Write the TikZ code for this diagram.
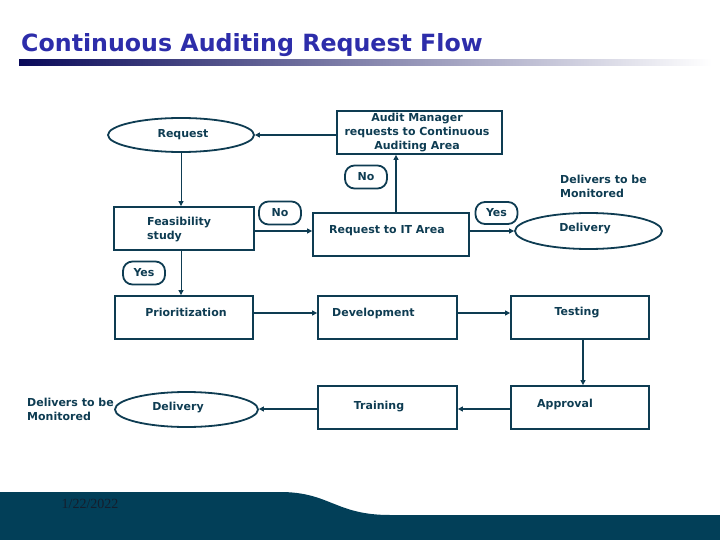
\documentclass[tikz,border=0pt]{standalone}
\usepackage{fontspec}
\setmainfont{DejaVu Sans}
\newfontfamily\datefont{Liberation Serif}
\usepackage{xcolor}
\usepackage{tikz}
\usetikzlibrary{
	arrows.meta,
	shapes.geometric,
	positioning
}
\definecolor{DeepTeal}{RGB}{14,60,82}
\definecolor{FootTeal}{RGB}{2,63,88}
\definecolor{TitleBlue}{RGB}{45,45,170}
\definecolor{BarNavy}{RGB}{10,10,90}

\begin{document}
\begin{tikzpicture}[x=1pt, y=-1pt,
		box/.style={draw=DeepTeal, line width=1.8pt, minimum width=#1, minimum height=43pt, inner sep=0pt},
		box/.default=139pt,
		oval/.style={ellipse, draw=DeepTeal, line width=1.8pt, minimum width=#1, minimum height=35pt, inner sep=0pt},
		oval/.default=145pt,
		txt/.style={text=DeepTeal, font=\bfseries\fontsize{11}{14}\selectfont, inner sep=0pt, align=center},
		tag/.style={txt, draw=DeepTeal, line width=1.8pt, rounded corners=9.5pt, minimum width=42pt, minimum height=23pt},
		arr/.style={draw=DeepTeal, line width=1.8pt, -{Triangle[length=5pt,width=5pt]}},
		thinarr/.style={arr, line width=1pt}]
			\useasboundingbox (0,0) rectangle (720,540);
			% heading
			\node[anchor=base west, text=TitleBlue, font=\bfseries\fontsize{23.7}{28}\selectfont, inner sep=0pt] (title) at (21,52) {Continuous Auditing Request Flow};
			\shade[left color=BarNavy, right color=white] (19,60) rectangle (712,66);
			% footer band
			\fill[FootTeal] (0,492) -- (280,492) .. controls (330,492) and (335,515) .. (390,515) -- (720,515) -- (720,540) -- (0,540) -- cycle;
			\node[font=\datefont\fontsize{14}{16}\selectfont, text={rgb,255:red,20;green,30;blue,45}, inner sep=0pt] (date) at (90,504) {1/22/2022};
			% top row
			\node[oval=146pt, minimum height=34pt] (request) at (181,135) {};
			\node[txt] (request-txt) at (183,135) {Request};
			\node[box=165pt] (audit) at (419.5,132.5) {};
			\node[txt] (audit-txt) at (417,133) {Audit Manager\\requests to Continuous\\Auditing Area};
			\node[tag] (no-up) at (366,177) {No};
			% second row
			\node[box=140pt] (feas) at (184,228.5) {};
			\node[txt, anchor=west, align=left] (feas-txt) at (147,229.5) {Feasibility\\study};
			\node[tag] (no-it) at (280,213) {No};
			\node[box=156pt] (it) at (391,234.5) {};
			\node[txt] (it-txt) at (387,231) {Request to IT Area};
			\node[tag, minimum height=22pt] (yes-del) at (496.5,213) {Yes};
			\node[oval=147pt, minimum height=36pt] (del-top) at (588.5,231) {};
			\node[txt] (del-top-txt) at (585,229) {Delivery};
			\node[txt, anchor=west, align=left] (mon-top) at (560,186) {Delivers to be\\Monitored};
			\node[tag] (yes-prio) at (144,273) {Yes};
			% third row
			\node[box=138pt] (prio) at (184,317.5) {};
			\node[txt] (prio-txt) at (186,312) {Prioritization};
			\node[box] (dev) at (387.5,317.5) {};
			\node[txt, anchor=west] (dev-txt) at (332,313) {Development};
			\node[box=138pt] (test) at (580,317.5) {};
			\node[txt] (test-txt) at (577,313) {Testing};
			% bottom row
			\node[box=138pt] (appr) at (580,407.5) {};
			\node[txt] (appr-txt) at (565,404) {Approval};
			\node[box] (train) at (387.5,407.5) {};
			\node[txt] (train-txt) at (379,407) {Training};
			\node[oval=143pt] (del-bot) at (186.5,409.5) {};
			\node[txt] (del-bot-txt) at (178,408) {Delivery};
			\node[txt, anchor=west, align=left] (mon-bot) at (27,409) {Delivers to be\\Monitored};
			% connectors
			\draw[arr] (request.east -| audit.west) -- (request.east);
			\draw[arr] ([xshift=5pt]it.north) -- ([xshift=5pt]it.north |- audit.south);
			\draw[thinarr] (request.south) -- (request.south |- feas.north);
			\draw[arr] ([yshift=-2.5pt]feas.east) -- ([yshift=-2.5pt]feas.east -| it.west);
			\draw[arr] ([yshift=3.5pt]it.east) -- (del-top.west);
			\draw[thinarr] ([xshift=-3pt]feas.south) -- ([xshift=-3pt]prio.north);
			\draw[arr] ([yshift=4.5pt]prio.east) -- ([yshift=4.5pt]dev.west);
			\draw[arr] ([yshift=4.5pt]dev.east) -- ([yshift=4.5pt]test.west);
			\draw[arr] ([xshift=3pt]test.south) -- ([xshift=3pt]appr.north);
			\draw[arr] ([yshift=-1.5pt]appr.west) -- ([yshift=-1.5pt]train.east);
			\draw[arr] ([yshift=-1.5pt]train.west) -- ([yshift=-1.5pt]train.west -| del-bot.east);
		\end{tikzpicture}
\end{document}
